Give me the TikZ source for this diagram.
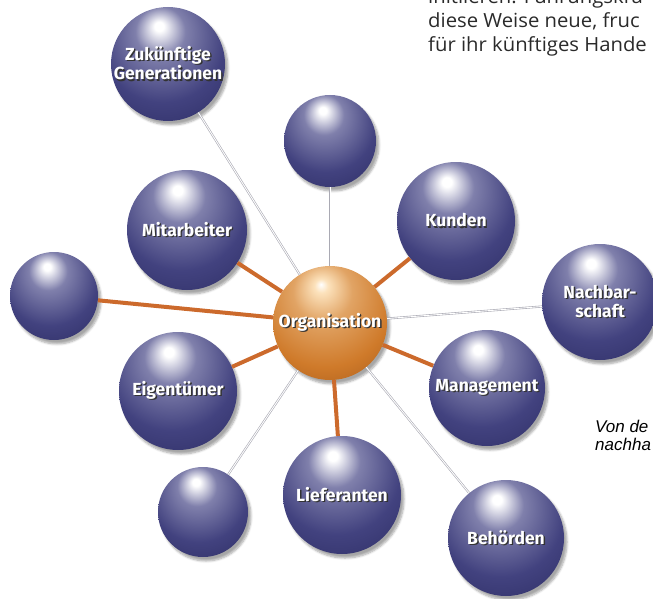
\documentclass[tikz,border=0pt]{standalone}
\usepackage{fontspec}
\setmainfont{Open Sans}
\newfontfamily\bodyfont[FakeStretch=1.04]{Open Sans}
\newfontfamily\labelfont{Fira Sans}
\newfontfamily\captfont{Liberation Sans}
\usetikzlibrary{shadows.blur}

\definecolor{sphlight}{HTML}{DCDCEE}
\definecolor{sphmid}{HTML}{42427F}
\definecolor{sphdark}{HTML}{181848}
\definecolor{orglight}{HTML}{FCE2BC}
\definecolor{orgmid}{HTML}{CF7A2A}
\definecolor{orgdark}{HTML}{6A2C06}
\definecolor{linkorange}{HTML}{CC6A2C}
\definecolor{linkgray}{HTML}{A9A9B3}
\definecolor{bodygray}{HTML}{2A2A2A}

\pgfdeclareradialshading{bluesphere}{\pgfpoint{-4bp}{17bp}}{%
  color(0bp)=(white); color(2bp)=(white); color(11bp)=(sphlight!40!sphmid);
  color(27bp)=(sphmid); color(48bp)=(sphdark!65!sphmid); color(67bp)=(sphdark)}
\pgfdeclareradialshading{orangesphere}{\pgfpoint{-4bp}{17bp}}{%
  color(0bp)=(white); color(3bp)=(orglight); color(13bp)=(orglight!40!orgmid);
  color(29bp)=(orgmid); color(50bp)=(orgdark!60!orgmid); color(67bp)=(orgdark)}

% white label with a dark drop shadow
\newcommand\shd[1]{\makebox[0pt][l]{\hspace{1.4pt}\raisebox{-1.4pt}{\color{black!80}#1}}#1}

\tikzset{
  ball/.style={circle, inner sep=0pt, shading=bluesphere, text=white,
    font=\labelfont\bfseries\fontsize{17.5}{19.5}\selectfont, align=center,
    blur shadow={shadow xshift=3pt, shadow yshift=-4pt, shadow blur steps=6, shadow opacity=35}},
  orgball/.style={ball, shading=orangesphere},
  orangelink/.style={draw=linkorange, line width=4pt},
  graylink/.style={draw=linkgray, line width=0.6pt, double=white, double distance=0.9pt},
  bodytext/.style={inner sep=0pt, anchor=base west, text=bodygray, font=\bodyfont\fontsize{19.5}{24}\selectfont},
  capttext/.style={inner sep=0pt, anchor=base west, text=black, font=\captfont\itshape\fontsize{17}{18}\selectfont}
}

\begin{document}
\begin{tikzpicture}[x=1pt, y=-1pt]
    \useasboundingbox (0,0) rectangle (653,599);
    \clip (0,0) rectangle (653,599);

    % Text beside the picture
    \node[bodytext] (line1) at (428,4) {initiieren. Führungskrä};
    \node[bodytext] (line2) at (428,28) {diese Weise neue, fruc};
    \node[bodytext] (line3) at (428,52) {für ihr künftiges Hande};
    \node[capttext] (capt1) at (595,432) {Von de};
    \node[capttext] (capt2) at (595,450) {nachha};

    % Spheres
    \node[orgball, minimum size=114pt] (org) at (330,323) {\shd{Organisation}};
    \node[ball, minimum size=114pt] (zuk) at (168,64) {\shd{Zukünftige}\\\shd{Generationen}};
    \node[ball, minimum size=92pt] (top) at (330,141) {};
    \node[ball, minimum size=120pt] (mit) at (187,230) {\shd{Mitarbeiter}};
    \node[ball, minimum size=118pt] (kun) at (456,221) {\shd{Kunden}};
    \node[ball, minimum size=88pt] (left) at (54,296) {};
    \node[ball, minimum size=116pt] (nach) at (600,302) {\shd{Nachbar-}\\\shd{schaft}};
    \node[ball, minimum size=118pt] (eig) at (178,391) {\shd{Eigentümer}};
    \node[ball, minimum size=116pt] (man) at (487,388) {\shd{Management}};
    \node[ball, minimum size=90pt] (low) at (203,512) {};
    \node[ball, minimum size=118pt] (lie) at (342,495) {\shd{Lieferanten}};
    \node[ball, minimum size=116pt] (beh) at (506,538) {\shd{Behörden}};

    % Strong links
    \draw[orangelink] (org) -- (mit);
    \draw[orangelink] (org) -- (left);
    \draw[orangelink] (org) -- (kun);
    \draw[orangelink] (org) -- (eig);
    \draw[orangelink] (org) -- (man);
    \draw[orangelink] (org) -- (lie);

    % Weak links
    \draw[graylink] (org) -- (zuk);
    \draw[graylink] (org) -- (top);
    \draw[graylink] (org) -- (nach);
    \draw[graylink] (org) -- (beh);
    \draw[graylink] (org) -- (low);
\end{tikzpicture}
\end{document}
